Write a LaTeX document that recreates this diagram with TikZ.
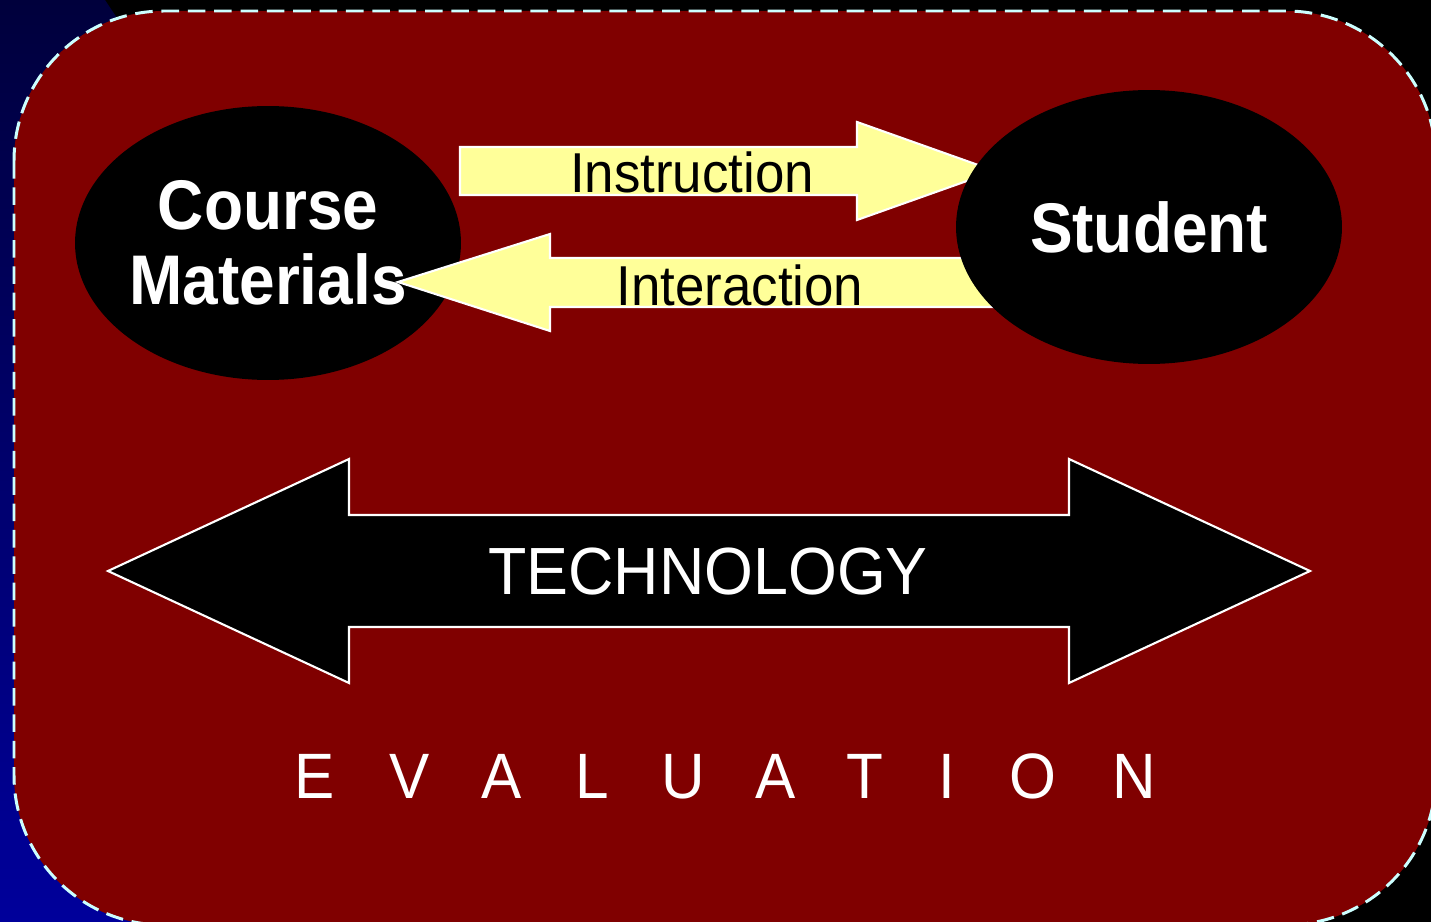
\documentclass[tikz,border=0pt]{standalone}
\usepackage{fontspec}
\setmainfont{Liberation Sans}
\usetikzlibrary{shapes.geometric}

\definecolor{slidered}{RGB}{128,0,0}
\definecolor{palecyan}{RGB}{204,255,255}
\definecolor{paleyellow}{RGB}{255,255,153}
\definecolor{navytop}{RGB}{0,0,60}
\definecolor{navybottom}{RGB}{0,0,155}

\begin{document}
\begin{tikzpicture}[x=0.02cm,y=-0.02cm,
		blob/.style={ellipse,fill=black,minimum width=7.72cm,minimum height=5.48cm},
		flow/.style={fill=paleyellow,draw=white,line width=1.2pt,line join=miter},
		bigarrow/.style={fill=black,draw=white,line width=1.2pt,line join=miter},
		boldtxt/.style={text=white,font=\bfseries\fontsize{40}{43}\selectfont,align=center,inner sep=0pt,xscale=0.91,transform shape},
		flowtxt/.style={text=black,font=\fontsize{32}{36}\selectfont,inner sep=0pt,xscale=0.94,transform shape},
		techtxt/.style={text=white,font=\fontsize{38}{42}\selectfont,inner sep=0pt,xscale=0.94,transform shape},
		evtxt/.style={text=white,font=\fontsize{36.5}{40}\selectfont,inner sep=0pt,anchor=base,xscale=0.94,transform shape}]
			\useasboundingbox (0,0) rectangle (1431,922);
			\clip (0,0) rectangle (1431,922);
			% slide background
			\fill[black] (0,0) rectangle (1431,922);
			\shade[top color=navytop,bottom color=navybottom] (0,0) -- (105,0) -- (720,922) -- (0,922) -- cycle;
			\draw[fill=slidered,draw=palecyan,line width=1.7pt,dash pattern=on 10pt off 5pt,rounded corners=3cm]
				(14,11) rectangle (1436,925);
			\node[blob] (course) at (268,243) {};
			% instruction and interaction
			\filldraw[flow] (460,147) -- (857,147) -- (857,122) -- (995,171) -- (857,220) -- (857,195) -- (460,195) -- cycle;
			\filldraw[flow] (398,282) -- (550,234) -- (550,258) -- (1000,258) -- (1000,307) -- (550,307) -- (550,331) -- cycle;
			\node[blob] (student) at (1149,227) {};
			% technology
			\filldraw[bigarrow] (108,571) -- (349,459) -- (349,515) -- (1069,515) -- (1069,459) -- (1310,571)
				-- (1069,683) -- (1069,627) -- (349,627) -- (349,683) -- cycle;
			\node[boldtxt] (coursetxt) at (course.center) {Course\\Materials};
			\node[boldtxt] (studenttxt) at (student.center) {Student};
			\node[flowtxt] (instr) at (692,172) {Instruction};
			\node[flowtxt] (inter) at (740,285) {Interaction};
			\node[techtxt] (tech) at (708,572) {TECHNOLOGY};
			\foreach \ch/\xx [count=\i] in {E/315,V/410,A/502,L/592,U/683,A/776,T/865,I/947,O/1033,N/1134}
				\node[evtxt] (ev\i) at (\xx,798) {\ch};
		\end{tikzpicture}
\end{document}
